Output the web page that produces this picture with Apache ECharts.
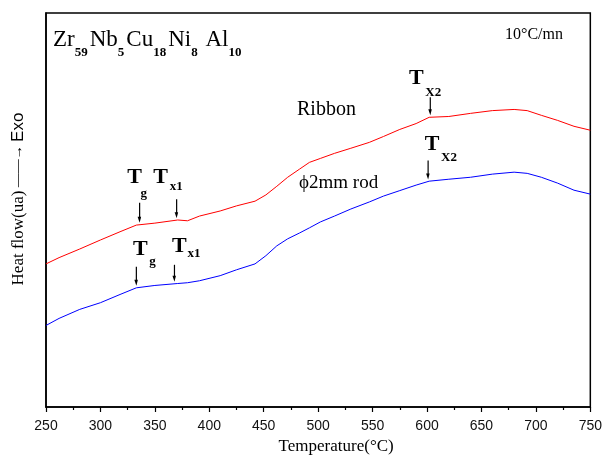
<!DOCTYPE html>
<html><head><meta charset="utf-8">
<script src="https://cdn.jsdelivr.net/npm/echarts@6/dist/echarts.min.js"></script>
<style>html,body{margin:0;padding:0;background:#fff}#c{width:605px;height:460px}</style>
</head><body><div id="c"></div>
<script>
// Temperature (°C)
const temps = [250,262,281,300,318,333,350,371,380,391,410,425,442,452,462,472,483,492,502,515,530,547,560,575,590,602,620,640,660,680,692,705,720,735,750];
// Heat flow (arbitrary units) – Ribbon
const ribbon = [3.60,3.76,3.98,4.21,4.42,4.59,4.64,4.72,4.70,4.82,4.95,5.08,5.20,5.36,5.58,5.81,6.02,6.19,6.29,6.42,6.55,6.70,6.85,7.03,7.18,7.34,7.36,7.44,7.51,7.54,7.51,7.39,7.26,7.11,7.01];
// Heat flow (arbitrary units) – φ2mm rod
const rod = [2.03,2.21,2.44,2.61,2.82,2.99,3.05,3.10,3.12,3.17,3.30,3.45,3.60,3.81,4.06,4.24,4.39,4.52,4.67,4.82,5.00,5.18,5.33,5.47,5.61,5.71,5.76,5.81,5.89,5.94,5.91,5.81,5.66,5.48,5.38];
const xTicks = [250,300,350,400,450,500,550,600,650,700,750];
// Characteristic temperatures marked with arrows
const ribbonMarks = [{name:'g', t:336},{name:'x1', t:370},{name:'X2', t:603}];
const rodMarks = [{name:'g', t:333},{name:'x1', t:368},{name:'X2', t:601}];
// Alloy formula: [element, subscript]
const formula = [['Zr','59'],['Nb','5'],['Cu','18'],['Ni','8'],[' Al','10']];

const serif = '"Liberation Serif","Times New Roman",serif';
const sans = '"Liberation Sans",Arial,sans-serif';

function interp(xs, ys, t){
  for(let i=0;i<xs.length-1;i++){
    if(t>=xs[i] && t<=xs[i+1]){const f=(t-xs[i])/(xs[i+1]-xs[i]);return ys[i]+f*(ys[i+1]-ys[i]);}
  }
  return ys[ys.length-1];
}
const mctx = document.createElement('canvas').getContext('2d');
function tw(text, font){mctx.font = font; return mctx.measureText(text).width;}

const chart = echarts.init(document.getElementById('c'), null, {renderer:'canvas'});
chart.setOption({
  animation:false,
  backgroundColor:'#fff',
  grid:{left:46,right:14,top:13,bottom:51,show:true,borderColor:'#000',borderWidth:1.5},
  xAxis:{type:'value',min:250,max:750,interval:50,
    name:'Temperature(°C)',nameLocation:'middle',nameGap:31,
    nameTextStyle:{fontFamily:serif,fontSize:17,color:'#000',padding:[0,0,0,36]},
    axisLine:{onZero:false,lineStyle:{color:'#000',width:1.5}},
    axisTick:{show:true,length:5,lineStyle:{color:'#000',width:1.2}},
    minorTick:{show:true,splitNumber:2,length:3,lineStyle:{color:'#000',width:1.2}},
    axisLabel:{fontFamily:sans,fontSize:14,color:'#111',margin:12,
      formatter:v=>xTicks.includes(v)?String(v):''},
    splitLine:{show:false}},
  yAxis:{type:'value',min:-0.05,max:10,
    name:'{a|Heat flow(ua)} {b|——→} {c|Exo}',nameLocation:'middle',nameRotate:90,nameGap:19,
    nameTextStyle:{rich:{
      a:{fontFamily:serif,fontSize:17,color:'#000',padding:[0,0,0,22]},
      b:{fontFamily:serif,fontSize:14,color:'#000'},
      c:{fontFamily:sans,fontSize:17,color:'#000'}}},
    axisLine:{show:true,onZero:false,lineStyle:{color:'#000',width:1.5}},
    axisTick:{show:false},axisLabel:{show:false},splitLine:{show:false}},
  series:[
    {name:'Ribbon',type:'line',data:temps.map((t,i)=>[t,ribbon[i]]),showSymbol:false,
      lineStyle:{color:'#ff0000',width:1},itemStyle:{color:'#ff0000'}},
    {name:'ϕ2mm rod',type:'line',data:temps.map((t,i)=>[t,rod[i]]),showSymbol:false,
      lineStyle:{color:'#0000ff',width:1},itemStyle:{color:'#0000ff'}}
  ]
});

// annotation offsets relative to arrow tip (pixel layout)
const layouts = {
  ribbon:[{tdx:-5,tdy:-47,sdx:1,sdy:-31,al:20},{tdx:-16,tdy:-43,sdx:-7,sdy:-34,al:19},{tdx:-14,tdy:-39,sdx:-5,sdy:-25,al:18}],
  rod:[{tdx:4,tdy:-39,sdx:13,sdy:-26,al:19},{tdx:5,tdy:-37,sdx:13,sdy:-30,al:17},{tdx:4,tdy:-37,sdx:13,sdy:-24,al:19}]
};
const g = [];
function addMarks(marks, ys, lay){
  marks.forEach((m,i)=>{
    const v = interp(temps, ys, m.t);
    const p = chart.convertToPixel({gridIndex:0},[m.t,v]);
    const L = lay[i];
    const tipY = p[1]-2;
    g.push({type:'line',shape:{x1:p[0],y1:tipY-L.al,x2:p[0],y2:tipY-4},style:{stroke:'#000',lineWidth:1.2}});
    g.push({type:'polygon',shape:{points:[[p[0]-2,tipY-6],[p[0]+1.5,tipY-6],[p[0],tipY]]},style:{fill:'#000'}});
    g.push({type:'text',x:p[0]+L.tdx,y:p[1]+L.tdy,style:{text:'T',font:'bold 22px '+serif,fill:'#000',textAlign:'center',textVerticalAlign:'middle'}});
    g.push({type:'text',x:p[0]+L.sdx,y:p[1]+L.sdy,style:{text:m.name,font:'bold 13px '+serif,fill:'#000',textAlign:'left',textVerticalAlign:'middle'}});
  });
}
addMarks(ribbonMarks, ribbon, layouts.ribbon);
addMarks(rodMarks, rod, layouts.rod);

g.push({type:'text',x:297,y:110,style:{text:'Ribbon',font:'20px '+serif,fill:'#000',textVerticalAlign:'middle'}});
g.push({type:'text',x:299,y:183,style:{text:'ϕ2mm rod',font:'19px '+serif,fill:'#000',textVerticalAlign:'middle'}});
g.push({type:'text',x:505,y:35,style:{text:'10°C/mn',font:'16px '+serif,fill:'#000',textVerticalAlign:'middle'}});
// formula title with real subscripts
(function(){
  const mf = '23px '+serif, sf = 'bold 13px '+serif;
  let x = 53;
  formula.forEach(([el, sub])=>{
    g.push({type:'text',x:x,y:40,style:{text:el,font:mf,fill:'#000',textVerticalAlign:'middle'}});
    x += tw(el, mf);
    g.push({type:'text',x:x,y:53,style:{text:sub,font:sf,fill:'#000',textVerticalAlign:'middle'}});
    x += tw(sub, sf) + 2;
  });
})();
chart.setOption({graphic:g});
</script>
</body></html>
